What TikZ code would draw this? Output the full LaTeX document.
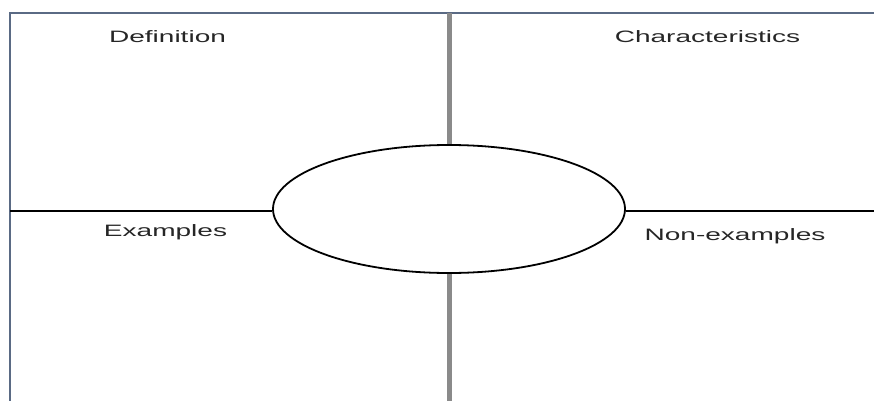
\documentclass[tikz,border=0pt]{standalone}
\usepackage{fontspec}
\setmainfont{Liberation Sans}
\usetikzlibrary{shapes.geometric,positioning}
\definecolor{framecol}{HTML}{5A6A84}
\definecolor{axiscol}{HTML}{8A8A8A}

\begin{document}
\begin{tikzpicture}[x=1pt,y=-1pt,
    label/.style={anchor=base, xscale=1.7, text=black!85, inner sep=0pt,
                  font=\fontsize{16.5}{20}\selectfont}]
        \useasboundingbox (0,0) rectangle (874,401);
        % frame: top and left edge
        \draw[framecol, line width=1.6pt] (874,13) -- (10,13) -- (10,401);
        % centre ellipse
        \node[ellipse, draw, line width=1.8pt, minimum width=352pt, minimum height=128pt,
              inner sep=0pt] (centre) at (449,209) {};
        \coordinate (top) at (449,13);
        \coordinate (bottom) at (449,401);
        \coordinate (left) at (10,211);
        \coordinate (right) at (874,211);
        \draw[axiscol, line width=5pt] (top) -- (centre.north);
        \draw[axiscol, line width=5pt] (centre.south) -- (bottom);
        \draw[line width=1.5pt] (left) -- (left -| centre.west);
        \draw[line width=1.5pt] (right -| centre.east) -- (right);
        % quadrant labels
        \node[label] (definition) at (167.5,43) {Definition};
        \node[label] (characteristics) at (707.5,43) {Characteristics};
        \node[label] (examples) at (165.5,236) {Examples};
        \node[label] (nonexamples) at (735,240) {Non-examples};
      \end{tikzpicture}
\end{document}
